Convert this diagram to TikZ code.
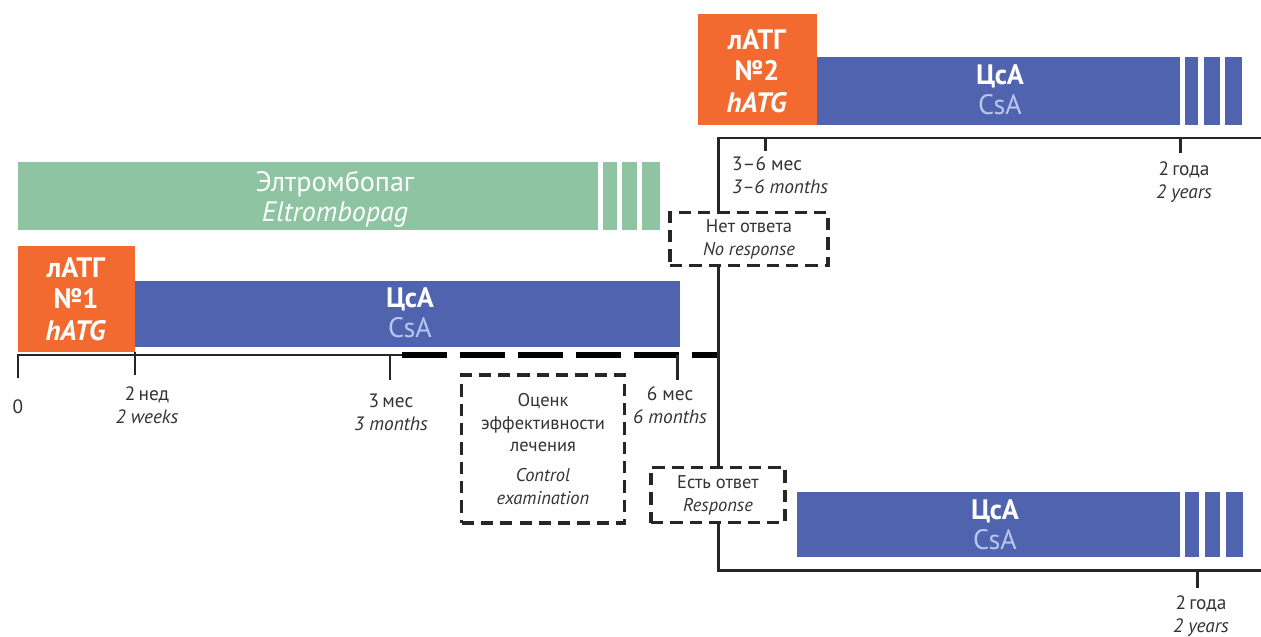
\documentclass[tikz,border=0pt]{standalone}
\usepackage{fontspec}
\setmainfont{PT Sans}
\usetikzlibrary{positioning}
\definecolor{atgorange}{HTML}{F26A30}
\definecolor{csablue}{HTML}{5063AE}
\definecolor{csalight}{HTML}{B9C6F0}
\definecolor{eltgreen}{HTML}{8FC4A2}
\definecolor{inkgray}{HTML}{333333}
\tikzset{
  bartext/.style={text=white, align=center, font=\fontsize{16}{17}\selectfont\bfseries},
  atgtext/.style={text=white, align=center, font=\fontsize{16}{18}\selectfont\bfseries},
  ticklbl/.style={text=inkgray, align=center, font=\fontsize{11}{13}\selectfont},
  dashbox/.style={draw=black!85, line width=1.8pt, dash pattern=on 7pt off 4pt,
    text=inkgray, align=center, inner sep=0pt, font=\fontsize{10.5}{13}\selectfont},
  tline/.style={line width=1.7pt, black!85},
}
\begin{document}
\begin{tikzpicture}[x=0.02cm, y=-0.02cm]
  \useasboundingbox (0,0) rectangle (1261,636);

  % Eltrombopag bar
  \fill[eltgreen] (18,162) rectangle (598,230);
  \foreach \a/\b in {603/617, 622/637, 642/660}
    \fill[eltgreen] (\a,162) rectangle (\b,230);
  \node[bartext, font=\fontsize{16}{17}\selectfont\mdseries] (elt) at (335,199)
    {Элтромбопаг\\\textit{Eltrombopag}};

  % hATG course 1 and CsA
  \fill[atgorange] (18,246) rectangle (135,352);
  \node[atgtext] (atgone) at (76,299) {лАТГ\\№1\\\textit{hATG}};
  \fill[csablue] (135,281) rectangle (680,347);
  \node[bartext] (csaone) at (410,313) {ЦсА\\\textcolor{csalight}{\mdseries CsA}};

  % hATG course 2 and CsA
  \fill[atgorange] (698,14) rectangle (817,125);
  \node[atgtext] (atgtwo) at (757,71) {лАТГ\\№2\\\textit{hATG}};
  \fill[csablue] (817,57) rectangle (1180,125);
  \foreach \a/\b in {1185/1198, 1204/1220, 1225/1242}
    \fill[csablue] (\a,57) rectangle (\b,125);
  \node[bartext] (csatwo) at (1000,90) {ЦсА\\\textcolor{csalight}{\mdseries CsA}};

  % CsA after response
  \fill[csablue] (797,492) rectangle (1180,557);
  \foreach \a/\b in {1185/1199, 1205/1220, 1226/1243}
    \fill[csablue] (\a,492) rectangle (\b,557);
  \node[bartext] (csathree) at (995,525) {ЦсА\\\textcolor{csalight}{\mdseries CsA}};

  % decision boxes
  \node[dashbox, minimum width=3.26cm, minimum height=2.96cm] (control) at (543,449)
    {Оценк\\эффективности\\лечения\\[4pt]\textit{Control}\\\textit{examination}};
  \node[dashbox, minimum width=3.16cm, minimum height=1.06cm] (noresp) at (749,239)
    {Нет ответа\\\textit{No response}};
  \node[dashbox, minimum width=2.68cm, minimum height=1.1cm] (resp) at (718,495)
    {Есть ответ\\\textit{Response}};

  % time axis of the first course
  \coordinate (axstart) at (18,378);
  \coordinate (evalstart) at (402,355);
  \draw[tline] (axstart) -- (18,355) -- (evalstart);
  \draw[line width=3.3pt, dash pattern=on 25.6pt off 7.4pt] (evalstart) -- (resp |- evalstart);
  \draw[tline] (135,352) -- (135,375);
  \draw[tline] (390,355) -- (390,380);
  \draw[tline] (677,355) -- (677,380);

  % branches after 6 months
  \coordinate (topend) at (1261,138);
  \coordinate (botend) at (1261,570);
  \draw[tline] (resp |- noresp.north) |- (topend);
  \draw[tline] (resp |- noresp.south) -- (resp.north);
  \draw[tline] (resp.south) |- (botend);
  \draw[tline] (765,138) -- (765,151);
  \draw[tline] (1180,138) -- (1180,153);
  \draw[tline] (1197,570) -- (1197,588);

  % tick labels
  \node[ticklbl] (tzero) at (18,407) {0};
  \node[ticklbl] (ttwowk) at (147,405) {2\,нед\\\textit{2 weeks}};
  \node[ticklbl] (tthree) at (391,412) {3\,мес\\\textit{3 months}};
  \node[ticklbl] (tsix) at (670,405) {6 мес\\\textit{6 months}};
  \node[ticklbl, align=left, anchor=west] (tthreesix) at (726,175) {3–6 мес\\\textit{3–6 months}};
  \node[ticklbl] (tyearsup) at (1184,182) {2\,года\\\textit{2 years}};
  \node[ticklbl] (tyearsdn) at (1201,616) {2\,года\\\textit{2 years}};
\end{tikzpicture}
\end{document}
